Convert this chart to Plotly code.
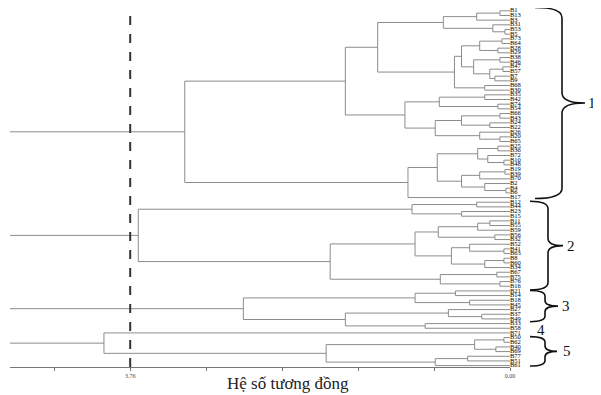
import plotly.graph_objects as go

# Leaf labels, top to bottom
LEAF_LABELS = [
    "B1", "B13", "B3", "B31", "B53", "B5", "B73", "B64", "B28", "B29",
    "B38", "B46", "B47", "B57", "B7", "B9", "B68", "B30", "B35", "B42",
    "B74", "B54", "B66", "B43", "B24", "B22", "B26", "B20", "B65", "B25",
    "B36", "B72", "B10", "B48", "B19", "B39", "B70", "B2", "B4", "B6", "B17",
    "B12", "B44", "B23", "B15", "B11", "B55", "B59", "B56", "B32", "B52",
    "B41", "B63", "B8", "B60", "B34", "B67", "B75", "B76", "B16",
    "B21", "B14", "B18", "B45", "B27", "B37", "B49", "B33", "B58",
    "B71",
    "B50", "B62", "B40", "B69", "B77", "B51", "B61",
]

# Merge structure: [height, upper child, lower child]; ints are leaf indices
U1 = [1.31,
      [0.66, [0.33, [0.10, 0, 1], 2], [0.17, 3, [0.05, 4, 5]]],
      [0.55,
       [0.48, [0.30, [0.08, 6, 7], [0.12, 8, 9]],
              [0.36, [0.10, 10, 11], [0.20, [0.07, 12, 13], [0.15, 14, 15]]]],
       [0.25, 16, 17]]]
U2 = [1.04,
      [0.70, [0.25, 18, 19], [0.12, 20, 21]],
      [0.74, [0.48, [0.10, 22, 23], [0.20, 24, 25]], [0.30, 26, [0.10, 27, 28]]]]
L1 = [1.01,
      [0.72, [0.32, [0.12, 29, 30], [0.22, 31, [0.06, 32, 33]]],
             [0.48, [0.30, [0.05, 34, 35], 36], [0.25, 37, [0.04, 38, 39]]]],
      40]
C1 = [3.22, [1.63, U1, U2], L1]
C2 = [3.68,
      [0.97, [0.33, 41, 42], [0.48, 43, 44]],
      [1.78,
       [0.94, [0.71, [0.32, [0.20, 45, 46], 47], [0.15, 48, 49]],
              [0.58, [0.40, 50, [0.06, 51, 52]], [0.25, [0.06, 53, 54], 55]]],
       [0.69, [0.13, 56, 57], [0.10, 58, 59]]]]
C3 = [2.64,
      [0.94, [0.54, 60, 61], [0.40, 62, 63]],
      [1.63, [0.61, 64, [0.28, 65, 66]], [0.84, 67, 68]]]
C4 = 69
C5 = [1.82, [0.35, [0.06, 70, 71], [0.14, 72, 73]], [0.74, [0.42, 74, 75], 76]]
C45 = [4.02, C4, C5]
ROOT = [6.2, [5.8, C1, C2], [5.6, C3, C45]]

CLUSTER_NAMES = ["1", "2", "3", "4", "5"]
CLUSTER_LEAVES = [(0, 40), (41, 59), (60, 68), (69, 69), (70, 76)]
CUT_VALUE = 3.76
TICK_VALUES = [0, 0.752, 1.504, 2.256, 3.008, 3.76, 4.512]
TICK_TEXT = ["0.00", "", "", "", "", "3.76", ""]
X_TITLE = "Hệ số tương đồng"

xs, ys = [], []


def draw(node):
    if isinstance(node, int):
        return float(node), 0.0
    h, a, b = node
    ya, ha = draw(a)
    yb, hb = draw(b)
    xs.extend([ha, h, h, hb, None])
    ys.extend([ya, ya, yb, yb, None])
    return (ya + yb) / 2, h


draw(ROOT)

fig = go.Figure()
fig.add_trace(go.Scatter(x=xs, y=ys, mode="lines",
                         line=dict(color="#8c8c8c", width=1),
                         hoverinfo="skip", showlegend=False))
fig.add_trace(go.Scatter(x=[0] * len(LEAF_LABELS), y=list(range(len(LEAF_LABELS))),
                         mode="text", text=LEAF_LABELS, textposition="middle right",
                         textfont=dict(family="Liberation Serif", size=6.5, color="#000"),
                         cliponaxis=False, hoverinfo="skip", showlegend=False))

# The page body adds an 8px offset; the plot area sits at screen x 10..510, y 8..367
def px2paper(px):
    return (px - 10) / 500.0


def py2paper(py):
    return (367 - py) / 359.0


def brace(y0, y1, p_end, p_mid, p_tip, r):
    xe, xm, xt = px2paper(p_end), px2paper(p_mid), px2paper(p_tip)
    ym = (y0 + y1) / 2
    return (f"M {xe},{y0} Q {xm},{y0} {xm},{y0 + r} L {xm},{ym - r} "
            f"Q {xm},{ym} {xt},{ym} Q {xm},{ym} {xm},{ym + r} "
            f"L {xm},{y1 - r} Q {xm},{y1} {xe},{y1}")


# end x, middle x, tip x, curve radius (leaves), text x, top pad, bottom pad (leaves)
brace_geom = {
    "1": (535, 562, 585, 2.2, 592, 0.7, 0.2),
    "2": (530, 548, 563, 1.6, 571, 0.2, 0.8),
    "3": (530, 545, 558, 1.2, 566, 0.1, -1.4),
    "5": (530, 545, 557, 1.2, 567, 0.2, 0.1),
}
shapes = []
annotations = []
for name, (a, b) in zip(CLUSTER_NAMES, CLUSTER_LEAVES):
    if name in brace_geom:
        pe, pm, pt, r, ptxt, pa, pb = brace_geom[name]
        y0, y1 = a - pa, b + pb
        shapes.append(dict(type="path", xref="paper", yref="y",
                           path=brace(y0, y1, pe, pm, pt, r),
                           line=dict(color="#111", width=1.6)))
        annotations.append(dict(x=px2paper(ptxt), y=(y0 + y1) / 2, xref="paper", yref="y",
                                text=name, showarrow=False, xanchor="center", yanchor="middle",
                                font=dict(family="Liberation Serif", size=15, color="#111")))
    else:
        annotations.append(dict(x=px2paper(541), y=a - 0.7, xref="paper", yref="y",
                                text=name, showarrow=False, xanchor="center", yanchor="middle",
                                font=dict(family="Liberation Serif", size=15, color="#111")))

shapes.append(dict(type="line", xref="x", yref="paper", x0=CUT_VALUE, x1=CUT_VALUE,
                   y0=0, y1=1,
                   line=dict(color="#333", width=2, dash="dash")))

annotations.append(dict(x=px2paper(288), y=py2paper(383), xref="paper", yref="paper",
                        text=X_TITLE, showarrow=False, xanchor="center", yanchor="middle",
                        font=dict(family="Liberation Serif", size=17, color="#222")))

fig.update_layout(
    width=593, height=387,
    margin=dict(l=2, r=91, t=0, b=28),
    plot_bgcolor="white", paper_bgcolor="white",
    shapes=shapes, annotations=annotations,
    xaxis=dict(range=[4.95, 0], showgrid=False, zeroline=False, showline=True,
               linecolor="#777", linewidth=1, ticks="outside", ticklen=3,
               tickcolor="#777", tickvals=TICK_VALUES, ticktext=TICK_TEXT,
               tickfont=dict(family="Liberation Serif", size=6, color="#444")),
    yaxis=dict(range=[76.3, -0.6], visible=False, showgrid=False, zeroline=False),
)

fig.write_html("out.html")
